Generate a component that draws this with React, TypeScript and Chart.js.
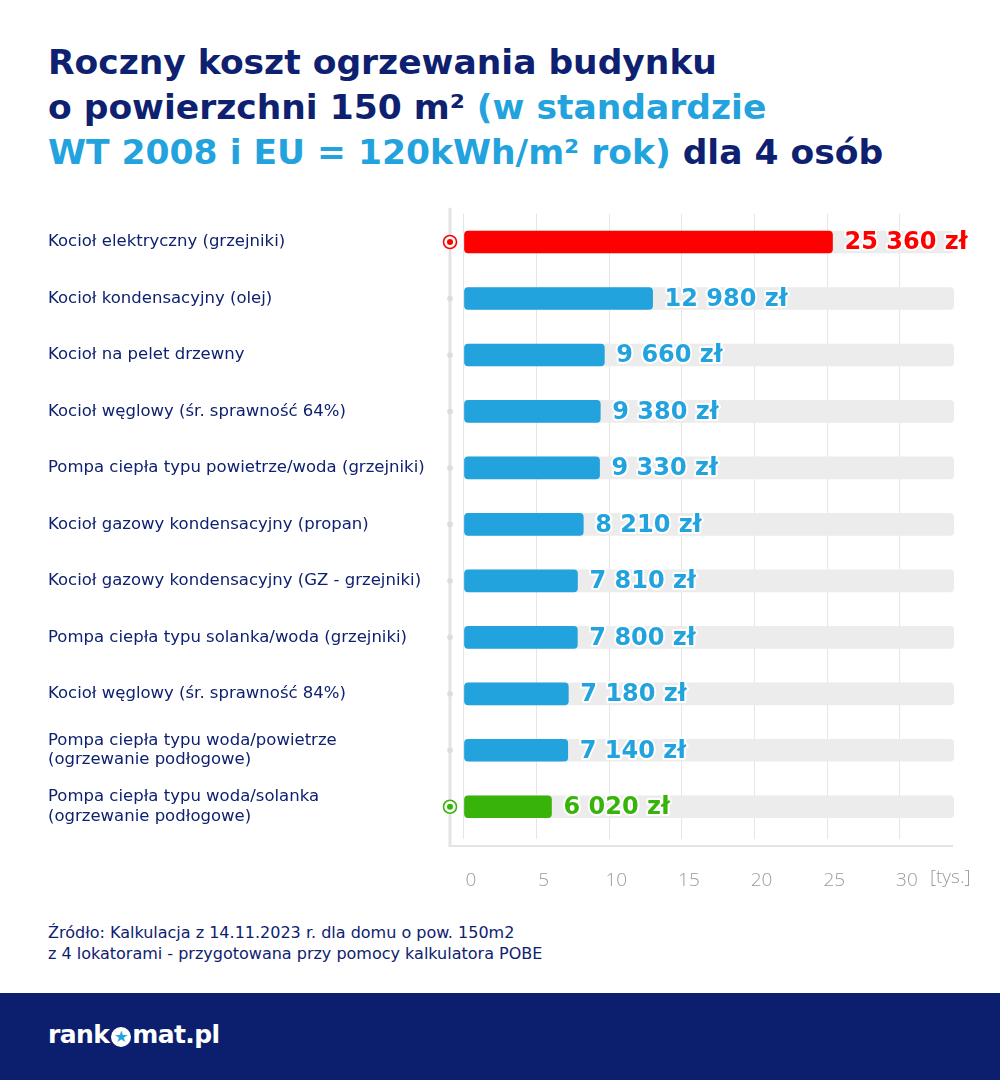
import React, { useEffect, useRef } from "react";
import { Chart, registerables } from "chart.js";

Chart.register(...registerables);

const CATEGORIES: (string | string[])[] = [
  "Kocioł elektryczny (grzejniki)",
  "Kocioł kondensacyjny (olej)",
  "Kocioł na pelet drzewny",
  "Kocioł węglowy (śr. sprawność 64%)",
  "Pompa ciepła typu powietrze/woda (grzejniki)",
  "Kocioł gazowy kondensacyjny (propan)",
  "Kocioł gazowy kondensacyjny (GZ - grzejniki)",
  "Pompa ciepła typu solanka/woda (grzejniki)",
  "Kocioł węglowy (śr. sprawność 84%)",
  ["Pompa ciepła typu woda/powietrze", "(ogrzewanie podłogowe)"],
  ["Pompa ciepła typu woda/solanka", "(ogrzewanie podłogowe)"],
];

// annual cost in thousands of PLN
const COSTS = [25.36, 12.98, 9.66, 9.38, 9.33, 8.21, 7.81, 7.8, 7.18, 7.14, 6.02];

const BAR_COLORS = [
  "#ff0000", "#22a3dd", "#22a3dd", "#22a3dd", "#22a3dd", "#22a3dd",
  "#22a3dd", "#22a3dd", "#22a3dd", "#22a3dd", "#37b309",
];

// marker type per row: "target" = highlighted ring, "dot" = small grey dot
const MARKERS = ["target", "dot", "dot", "dot", "dot", "dot", "dot", "dot", "dot", "dot", "target"];

const X_TICKS = [0, 5, 10, 15, 20, 25, 30];
const X_UNIT = "[tys.]";
const TRACK_END = 33.7;
const X_MIN = -0.963;
const X_MAX = 33.86;

const NAVY = "#0e2170";
const BLUE = "#22a3dd";

function formatPLN(v: number): string {
  const n = Math.round(v * 1000);
  return n.toString().replace(/\B(?=(\d{3})+(?!\d))/g, " ") + " zł";
}

const decorPlugin = {
  id: "decor",
  beforeDatasetsDraw(chart: any) {
    const { ctx, chartArea, scales } = chart;
    const xs = scales.x;
    const lineY = chartArea.bottom + 11;
    ctx.save();
    // left axis line
    ctx.strokeStyle = "#e4e4e4";
    ctx.lineWidth = 3;
    ctx.beginPath();
    ctx.moveTo(chartArea.left, chartArea.top - 6);
    ctx.lineTo(chartArea.left, lineY);
    ctx.stroke();
    // bottom axis line
    ctx.lineWidth = 2;
    ctx.beginPath();
    ctx.moveTo(chartArea.left - 1.5, lineY);
    ctx.lineTo(chartArea.right - 3, lineY);
    ctx.stroke();
    // unit label
    ctx.fillStyle = "#9b9b9b";
    ctx.font = "300 19px 'Open Sans'";
    ctx.textBaseline = "middle";
    ctx.textAlign = "left";
    ctx.fillText(X_UNIT, xs.getPixelForValue(30) + 30, chartArea.bottom + 43);
    ctx.restore();
  },
  afterDatasetsDraw(chart: any) {
    const { ctx, chartArea, scales } = chart;
    const xs = scales.x;
    const ys = scales.y;
    ctx.save();
    COSTS.forEach((v, i) => {
      const y = ys.getPixelForValue(i);
      // markers
      const mx = chartArea.left;
      if (MARKERS[i] === "target") {
        ctx.fillStyle = "#ffffff";
        ctx.beginPath();
        ctx.arc(mx, y, 7, 0, Math.PI * 2);
        ctx.fill();
        ctx.strokeStyle = BAR_COLORS[i];
        ctx.lineWidth = 1.6;
        ctx.beginPath();
        ctx.arc(mx, y, 6.5, 0, Math.PI * 2);
        ctx.stroke();
        ctx.fillStyle = BAR_COLORS[i];
        ctx.beginPath();
        ctx.arc(mx, y, 3, 0, Math.PI * 2);
        ctx.fill();
      } else {
        ctx.fillStyle = "#dcdcdc";
        ctx.beginPath();
        ctx.arc(mx, y, 2.8, 0, Math.PI * 2);
        ctx.fill();
      }
      // value label
      const x = xs.getPixelForValue(v) + 12;
      ctx.font = "bold 24px 'DejaVu Sans'";
      ctx.textAlign = "left";
      ctx.textBaseline = "middle";
      ctx.lineJoin = "round";
      ctx.strokeStyle = "#ffffff";
      ctx.lineWidth = 4;
      const t = formatPLN(v);
      ctx.strokeText(t, x, y + 1);
      ctx.fillStyle = BAR_COLORS[i];
      ctx.fillText(t, x, y + 1);
    });
    ctx.restore();
  },
};

function BarChart() {
  const ref = useRef<HTMLCanvasElement | null>(null);
  useEffect(() => {
    if (!ref.current) return;
    const chart = new Chart(ref.current, {
      type: "bar",
      data: {
        labels: CATEGORIES,
        datasets: [
          {
            data: COSTS,
            backgroundColor: BAR_COLORS,
            barThickness: 22,
            borderRadius: 4,
            borderSkipped: false,
            grouped: false,
            order: 0,
          },
          {
            data: CATEGORIES.map(() => TRACK_END),
            backgroundColor: "#ececec",
            barThickness: 22,
            borderRadius: 4,
            borderSkipped: false,
            grouped: false,
            order: 1,
          },
        ],
      },
      options: {
        indexAxis: "y",
        responsive: false,
        animation: false,
        maintainAspectRatio: false,
        layout: { padding: { left: 48, right: 44, top: 8, bottom: 0 } },
        plugins: { legend: { display: false }, tooltip: { enabled: false } },
        scales: {
          x: {
            type: "linear",
            min: X_MIN,
            max: X_MAX,
            afterBuildTicks: (scale: any) => {
              scale.ticks = X_TICKS.map((v) => ({ value: v }));
            },
            afterFit: (scale: any) => {
              scale.height = 60;
            },
            grid: { color: "#e6e6e6", lineWidth: 1, drawTicks: true, tickLength: 4 },
            border: { display: false },
            ticks: {
              padding: 30,
              labelOffset: 7,
              color: "#9b9b9b",
              font: { family: "'Open Sans'", size: 19, weight: "300" as any },
              callback: (v: any) => String(v),
            },
          },
          y: {
            grid: { display: false },
            border: { display: false },
            afterFit: (scale: any) => {
              scale.width = 402;
            },
            ticks: {
              crossAlign: "far",
              padding: 0,
              color: NAVY,
              font: { family: "'DejaVu Sans'", size: 16.5, lineHeight: 1.2 },
            },
          },
        },
      },
      plugins: [decorPlugin],
    });
    return () => chart.destroy();
  }, []);
  return (
    <canvas
      ref={ref}
      width={1000}
      height={701}
      style={{ position: "absolute", left: 0, top: 194, width: 1000, height: 701 }}
    />
  );
}

export default function App() {
  const titleStyle: React.CSSProperties = {
    position: "absolute",
    left: 48,
    top: 40,
    margin: 0,
    fontFamily: "'DejaVu Sans', sans-serif",
    fontWeight: "bold",
    fontSize: 34.5,
    lineHeight: "45px",
    color: NAVY,
    whiteSpace: "nowrap",
  };
  return (
    <div
      style={{
        position: "absolute",
        left: 0,
        top: 0,
        width: 1000,
        height: 1080,
        background: "#ffffff",
        overflow: "hidden",
      }}
    >
      <div style={titleStyle}>
        Roczny koszt ogrzewania budynku
        <br />o powierzchni 150 m² <span style={{ color: BLUE }}>(w standardzie</span>
        <br />
        <span style={{ color: BLUE }}>WT 2008 i EU = 120kWh/m² rok)</span> dla 4 osób
      </div>
      <BarChart />
      <div
        style={{
          position: "absolute",
          left: 48,
          top: 922,
          fontFamily: "'DejaVu Sans', sans-serif",
          fontSize: 16,
          lineHeight: "21px",
          color: NAVY,
          whiteSpace: "nowrap",
        }}
      >
        Źródło: Kalkulacja z 14.11.2023 r. dla domu o pow. 150m2
        <br />z 4 lokatorami - przygotowana przy pomocy kalkulatora POBE
      </div>
      <div
        style={{
          position: "absolute",
          left: 0,
          top: 993,
          width: 1000,
          height: 87,
          background: "#0b1f6e",
        }}
      >
        <div
          style={{
            position: "absolute",
            left: 48,
            top: 27,
            fontFamily: "'DejaVu Sans', sans-serif",
            fontWeight: "bold",
            fontSize: 25,
            letterSpacing: "-0.6px",
            color: "#ffffff",
            display: "flex",
            alignItems: "center",
          }}
        >
          <span>rank</span>
          <span
            style={{
              display: "inline-block",
              width: 20,
              height: 20,
              borderRadius: "50%",
              background: "#ffffff",
              color: BLUE,
              fontSize: 16,
              lineHeight: "20px",
              textAlign: "center",
              margin: "4px 1px 0 2px",
              letterSpacing: 0,
            }}
          >
            ★
          </span>
          <span>mat.pl</span>
        </div>
      </div>
    </div>
  );
}
